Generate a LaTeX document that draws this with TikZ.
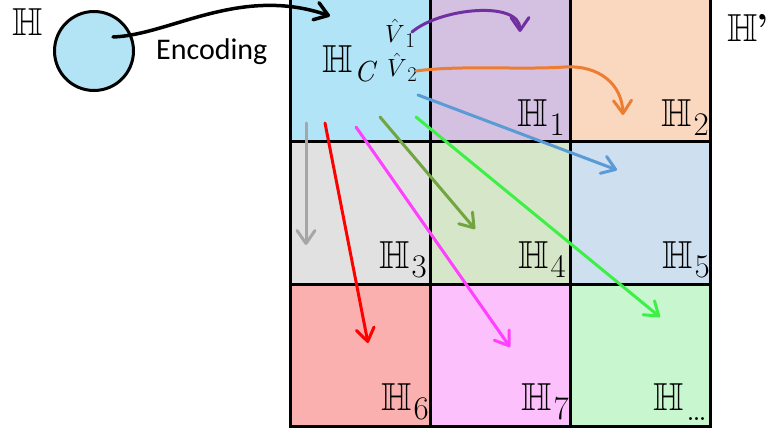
\documentclass[tikz,border=0pt]{standalone}
\usepackage{amssymb}
\usepackage{fontspec}
\newfontfamily\carlito{Carlito}
\usetikzlibrary{arrows.meta}

% double-struck H with an enlarged, lowered index
\newcommand\Hsub[2][33]{$\mathbb{H}$\kern1.5pt\raisebox{-9pt}{\fontsize{#1}{#1}\selectfont#2}}
% hatted V with its index
\newcommand\Vsub[1]{$\hat{V}$\kern0.5pt\raisebox{-5pt}{\fontsize{21}{22}\selectfont#1}}

% cell fills
\definecolor{fillC}{RGB}{177,228,246}
\definecolor{fillA}{RGB}{212,193,226}
\definecolor{fillB}{RGB}{250,216,192}
\definecolor{fillD}{RGB}{225,225,225}
\definecolor{fillE}{RGB}{214,230,200}
\definecolor{fillF}{RGB}{206,223,240}
\definecolor{fillG}{RGB}{250,176,174}
\definecolor{fillH}{RGB}{252,192,252}
\definecolor{fillI}{RGB}{200,246,206}
\definecolor{circfill}{RGB}{178,228,246}
% arrow colours
\definecolor{apurple}{RGB}{112,48,160}
\definecolor{aorange}{RGB}{237,125,49}
\definecolor{ablue}{RGB}{91,155,213}
\definecolor{agray}{RGB}{166,166,166}
\definecolor{ared}{RGB}{255,0,0}
\definecolor{amagenta}{RGB}{255,64,255}
\definecolor{aolive}{RGB}{112,165,64}
\definecolor{agreen}{RGB}{60,240,70}

\tikzset{
  cell/.style={draw=none, minimum width=140pt, minimum height=#1,
    inner sep=0pt, outer sep=0pt, anchor=north west},
  gridline/.style={draw=black, line width=3pt},
  hlab/.style={font=\fontsize{39}{40}\selectfont, inner sep=0pt},
  vlab/.style={font=\fontsize{29}{30}\selectfont, inner sep=0pt},
  link/.style={line width=3pt, line cap=round, line join=round,
    -{Straight Barb[length=13pt,width=18pt,line cap=round,line join=round]}},
}

\begin{document}
\begin{tikzpicture}[x=1pt,y=-1pt]
\useasboundingbox (0,0) rectangle (766,433);

% the nine cells of the partitioned space
\node[cell=143pt, fill=fillC] (cC) at (290,-1) {};
\node[cell=143pt, fill=fillA] (c1) at (430,-1) {};
\node[cell=143pt, fill=fillB] (c2) at (570,-1) {};
\node[cell=142pt, fill=fillD] (c3) at (290,142) {};
\node[cell=142pt, fill=fillE] (c4) at (430,142) {};
\node[cell=142pt, fill=fillF] (c5) at (570,142) {};
\node[cell=142pt, fill=fillG] (c6) at (290,284) {};
\node[cell=142pt, fill=fillH] (c7) at (430,284) {};
\node[cell=142pt, fill=fillI] (c8) at (570,284) {};

% grid lines
\draw[gridline] (cC.north west) rectangle (c8.south east);
\draw[gridline] (c1.north west) -- (c7.south west);
\draw[gridline] (c2.north west) -- (c8.south west);
\draw[gridline] (c3.north west) -- (c5.north east);
\draw[gridline] (c6.north west) -- (c8.north east);

% input space
\node[circle, draw=black, line width=3pt, fill=circfill, minimum size=79pt,
  inner sep=0pt] (src) at (94,51) {};
\node[hlab, anchor=base west] (lH) at (12,36) {$\mathbb{H}$};
\node[hlab, anchor=base west] (lHp) at (727,42) {$\mathbb{H}$\kern-1pt{\bfseries’}};
\node[font=\carlito\fontsize{30}{31}\selectfont, inner sep=0pt,
  anchor=base west] (enc) at (156,60) {Encoding};

% cell labels
\node[hlab, anchor=base west] (lC) at (322,73) {\Hsub[29]{\itshape C}};
\node[hlab, anchor=base east] (l1) at (565,127) {\Hsub{1}};
\node[hlab, anchor=base east] (l2) at (709,127) {\Hsub{2}};
\node[hlab, anchor=base east] (l3) at (427,268) {\Hsub{3}};
\node[hlab, anchor=base east] (l4) at (566,268) {\Hsub{4}};
\node[hlab, anchor=base east] (l5) at (710,268) {\Hsub{5}};
\node[hlab, anchor=base east] (l6) at (429,410) {\Hsub{6}};
\node[hlab, anchor=base east] (l7) at (569,410) {\Hsub{7}};
\node[hlab, anchor=base east] (l8) at (708,410)
  {$\mathbb{H}$\kern3pt\raisebox{-10pt}{\fontsize{36}{37}\selectfont.\kern-3pt.\kern-3pt.}};

\node[vlab, anchor=base west] (v1) at (385,43) {\Vsub{1}};
\node[vlab, anchor=base west] (v2) at (387,77) {\Vsub{2}};

% connector end points
\coordinate (encS) at (113,37);
\coordinate (encE) at (330,16);
\coordinate (s1) at (412,32);
\coordinate (e1) at (520,32);
\coordinate (s2) at (416,71);
\coordinate (m2) at (565,67);
\coordinate (e2) at (623,115);
\coordinate (s5) at (418,95);
\coordinate (e5) at (617,170);
\coordinate (s3) at (306,123);
\coordinate (e3) at (306,245);
\coordinate (s6) at (325,123);
\coordinate (e6) at (368,343);
\coordinate (s7) at (356,127);
\coordinate (e7) at (510,347);
\coordinate (s4) at (380,117);
\coordinate (e4) at (475,229);
\coordinate (s8) at (416,117);
\coordinate (e8) at (660,317);

% encoding arrow
\draw[link, line width=3.5pt, black] (encS) .. controls (170,35) and (240,-15) .. (encE);

% mapping arrows
\draw[link, apurple] (s1) .. controls (440,8) and (520,0) .. (e1);
\draw[link, aorange] (s2) .. controls (460,65) and (520,70) .. (m2)
  .. controls (600,65) and (622,85) .. (e2);
\draw[link, ablue] (s5) -- (e5);
\draw[link, agray] (s3) -- (e3);
\draw[link, ared] (s6) -- (e6);
\draw[link, amagenta] (s7) -- (e7);
\draw[link, aolive] (s4) -- (e4);
\draw[link, agreen] (s8) -- (e8);
\end{tikzpicture}
\end{document}
